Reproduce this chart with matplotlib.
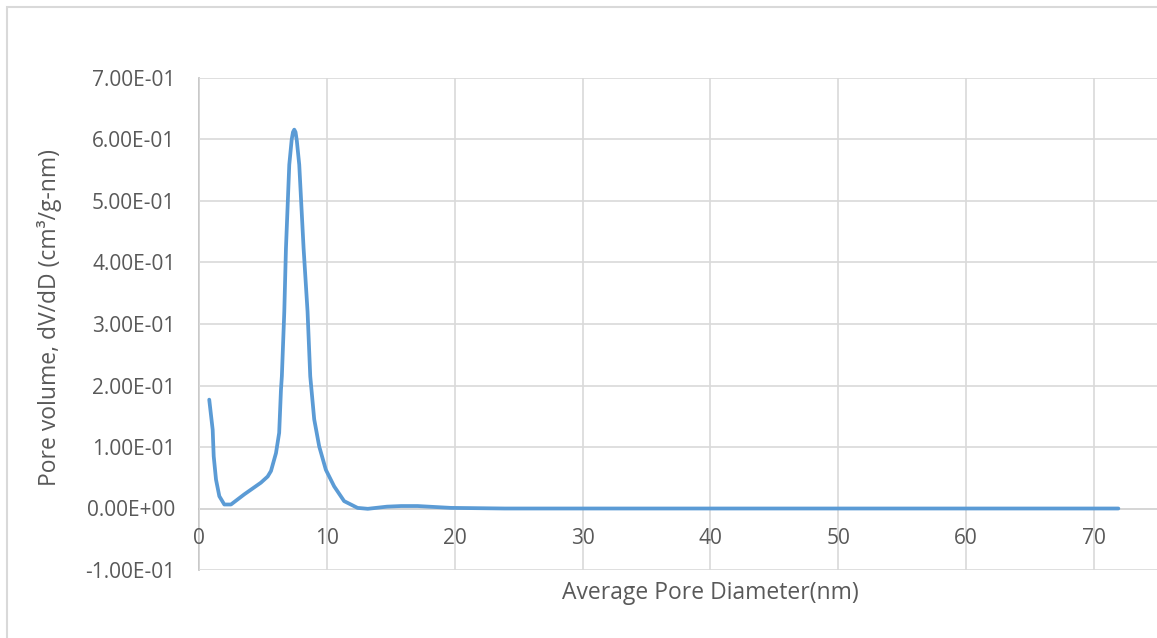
"""
Pore size distribution (BJH style) redrawn from an Excel chart
"""
import matplotlib
matplotlib.use("Agg")
import matplotlib.pyplot as plt
from matplotlib.patches import Rectangle
from matplotlib.ticker import FuncFormatter, MultipleLocator

FIGURE_SIZE = (11.57, 6.38)
LINE_COLOR = "#5B9BD5"
TEXT_COLOR = "#595959"
GRID_COLOR = "#D9D9D9"
AXIS_COLOR = "#BFBFBF"

# 'Average pore diameter (nm)'
diameter = [0.80, 1.07, 1.15, 1.33, 1.59, 1.98, 2.50, 3.54, 4.84, 5.37, 5.63, 6.02,
            6.27, 6.41, 6.48, 6.67, 6.80, 7.06, 7.25, 7.35, 7.45, 7.55, 7.65, 7.84,
            8.18, 8.49, 8.70, 9.01, 9.40, 9.92, 10.57, 11.35, 12.40, 13.20, 14.70,
            15.80, 17.10, 19.70, 23.90, 30.0, 40.0, 50.0, 60.0, 71.9]
# 'dV/dD (cm3/g-nm)'
dv_dd = [0.177, 0.128, 0.085, 0.047, 0.020, 0.0065, 0.0065, 0.023, 0.042, 0.052, 0.061, 0.090,
         0.123, 0.193, 0.215, 0.320, 0.423, 0.559, 0.600, 0.612, 0.616, 0.612, 0.598, 0.559,
         0.423, 0.320, 0.215, 0.145, 0.101, 0.063, 0.036, 0.012, 0.001, -0.0005, 0.003,
         0.004, 0.004, 0.001, 0.0, 0.0, 0.0, 0.0, 0.0, 0.0]

x_ticks = [0, 10, 20, 30, 40, 50, 60, 70]


def sci_label(v, pos):
    return f"{v:.2E}"


plt.rcParams["font.family"] = ["Open Sans", "DejaVu Sans"]
fig = plt.figure(figsize=FIGURE_SIZE, dpi=100)

# outer chart frame (cropped on the right / bottom in the original)
fig.patches.append(Rectangle((7 / 1157, -0.1), 1.2, 1 - 7 / 638 + 0.1,
                             transform=fig.transFigure, fill=False,
                             edgecolor=GRID_COLOR, linewidth=1.5))

ax = fig.add_axes([199 / 1157, 1 - 570 / 638, 1 - 199 / 1157, (570 - 78) / 638])
ax.plot(diameter, dv_dd, color=LINE_COLOR, linewidth=2.7, solid_capstyle="round",
        solid_joinstyle="round", zorder=3)

ax.set_xlim(0, (1157 - 198) / 12.8)
ax.set_ylim(-0.1, 0.7)
ax.set_xticks(x_ticks)
ax.yaxis.set_major_locator(MultipleLocator(0.1))
ax.yaxis.set_major_formatter(FuncFormatter(sci_label))

ax.grid(True, color=GRID_COLOR, linewidth=1.2, zorder=0)
for side in ("top", "right"):
    ax.spines[side].set_visible(False)
ax.spines["bottom"].set_position(("data", 0))
for side in ("bottom", "left"):
    ax.spines[side].set_color(AXIS_COLOR)
    ax.spines[side].set_linewidth(1.2)
    ax.spines[side].set_zorder(1)

ax.tick_params(axis="both", length=0, labelcolor=TEXT_COLOR, labelsize=15)
ax.tick_params(axis="y", pad=17)
ax.tick_params(axis="x", pad=14)

fig.text(710 / 1157, 1 - 593 / 638, "Average Pore Diameter(nm)", ha="center", va="center",
         color=TEXT_COLOR, fontsize=16.5)
fig.text(50 / 1157, 1 - 317 / 638, "Pore volume, dV/dD (cm³/g-nm)", ha="center", va="center",
         rotation=90, color=TEXT_COLOR, fontsize=16.5)

fig.savefig("out.png", dpi=100)
